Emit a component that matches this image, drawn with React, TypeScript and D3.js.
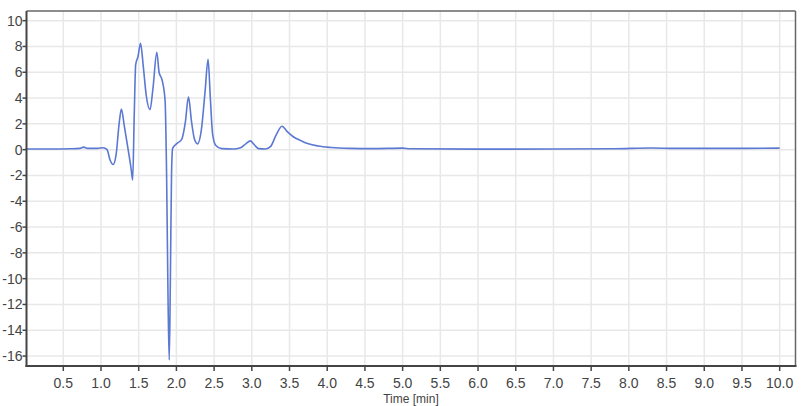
import React from "react";
import * as d3 from "d3";

const timeMin: number[] = [
  0.0, 0.3, 0.6, 0.72, 0.77, 0.82, 0.95, 1.03, 1.08, 1.12, 1.16, 1.2, 1.24, 1.27, 1.31, 1.36, 1.4, 1.42,
  1.44, 1.46, 1.49, 1.525, 1.56, 1.6, 1.65, 1.69, 1.74, 1.77, 1.81, 1.85, 1.87, 1.89, 1.905, 1.92, 1.935,
  1.95, 2.0, 2.07, 2.12, 2.16, 2.2, 2.24, 2.28, 2.33, 2.38, 2.42, 2.45, 2.48, 2.52, 2.6, 2.75, 2.85, 2.92,
  2.98, 3.03, 3.09, 3.18, 3.25, 3.32, 3.4, 3.47, 3.55, 3.65, 3.75, 3.88, 4.05, 4.3, 4.6, 5.0, 5.1, 6.0,
  7.0, 7.8, 8.3, 8.6, 9.5, 10.0,
];
const signal: number[] = [
  0.05, 0.05, 0.07, 0.1, 0.2, 0.1, 0.1, 0.15, 0.0, -0.8, -1.15, -0.4, 2.0, 3.15, 1.8, 0.0, -1.5, -2.35,
  2.5, 6.6, 7.2, 8.25, 6.5, 4.2, 3.1, 4.8, 7.55, 6.0, 5.4, 3.8, -2.0, -12.0, -16.3, -10.0, -2.0,
  0.1, 0.45, 0.8, 2.2, 4.1, 2.2, 0.8, 0.45, 1.5, 4.5, 7.0, 4.0, 1.2, 0.35, 0.08, 0.05, 0.15, 0.45,
  0.68, 0.4, 0.08, 0.05, 0.25, 1.1, 1.82, 1.4, 1.0, 0.7, 0.45, 0.28, 0.17, 0.1, 0.08, 0.12, 0.07, 0.04,
  0.05, 0.07, 0.13, 0.1, 0.1, 0.12,
];
const xTicks: number[] = [0.5, 1.0, 1.5, 2.0, 2.5, 3.0, 3.5, 4.0, 4.5, 5.0, 5.5, 6.0, 6.5, 7.0, 7.5, 8.0, 8.5, 9.0, 9.5, 10.0];
const yTicks: number[] = [-16, -14, -12, -10, -8, -6, -4, -2, 0, 2, 4, 6, 8, 10];
const xLabel = "Time [min]";

const W = 802;
const H = 406;
const left = 26.5;
const right = 795.5;
const top = 11;
const bottom = 366;

export default function App() {
  const x = d3.scaleLinear().domain([0.012, 10.21]).range([left, right]);
  const y = d3.scaleLinear().domain([-16.77, 10.75]).range([bottom, top]);
  const pts: [number, number][] = timeMin.map((t, i) => [t, signal[i]]);
  const line = d3
    .line<[number, number]>()
    .x((d) => x(d[0]))
    .y((d) => y(d[1]))
    .curve(d3.curveMonotoneX);
  const font = "'Liberation Sans Narrow', 'Arial Narrow', 'Liberation Sans', sans-serif";
  return (
    <svg width={W} height={H} style={{ position: "absolute", left: 0, top: 0, background: "#fff" }}>
      <rect x={0} y={0} width={W} height={H} fill="#fff" />
      {xTicks.map((t) => (
        <line key={"gx" + t} x1={x(t)} x2={x(t)} y1={top} y2={bottom} stroke="#e8e8e8" strokeWidth={1.5} />
      ))}
      {yTicks.map((t) => (
        <line key={"gy" + t} x1={left} x2={right} y1={y(t)} y2={y(t)} stroke="#e8e8e8" strokeWidth={1.5} />
      ))}
      <path d={line(pts) || ""} fill="none" stroke="#5b78d2" strokeWidth={1.6} />
      <line x1={left} x2={right} y1={top} y2={top} stroke="#666" strokeWidth={1.5} />
      <line x1={right} x2={right} y1={top} y2={bottom} stroke="#666" strokeWidth={1.5} />
      <line x1={left} x2={left} y1={top} y2={bottom + 1} stroke="#444" strokeWidth={2} />
      <line x1={left - 1} x2={right + 1} y1={bottom} y2={bottom} stroke="#444" strokeWidth={2} />
      {yTicks.map((t) => (
        <g key={"ty" + t}>
          <line x1={left - 4} x2={left} y1={y(t)} y2={y(t)} stroke="#444" strokeWidth={1.5} />
          <text
            x={left - 4}
            y={y(t)}
            dy="0.35em"
            textAnchor="end"
            fontFamily={font}
            fontSize={14}
            fill="#444"
          >
            {t}
          </text>
        </g>
      ))}
      {xTicks.map((t) => (
        <g key={"tx" + t}>
          <line x1={x(t)} x2={x(t)} y1={bottom} y2={bottom + 5} stroke="#444" strokeWidth={1.5} />
          <text x={x(t)} y={388} textAnchor="middle" fontFamily={font} fontSize={14} fill="#444">
            {t.toFixed(1)}
          </text>
        </g>
      ))}
      <text x={(left + right) / 2} y={403} textAnchor="middle" fontFamily={font} fontSize={12} fill="#444">
        {xLabel}
      </text>
    </svg>
  );
}
